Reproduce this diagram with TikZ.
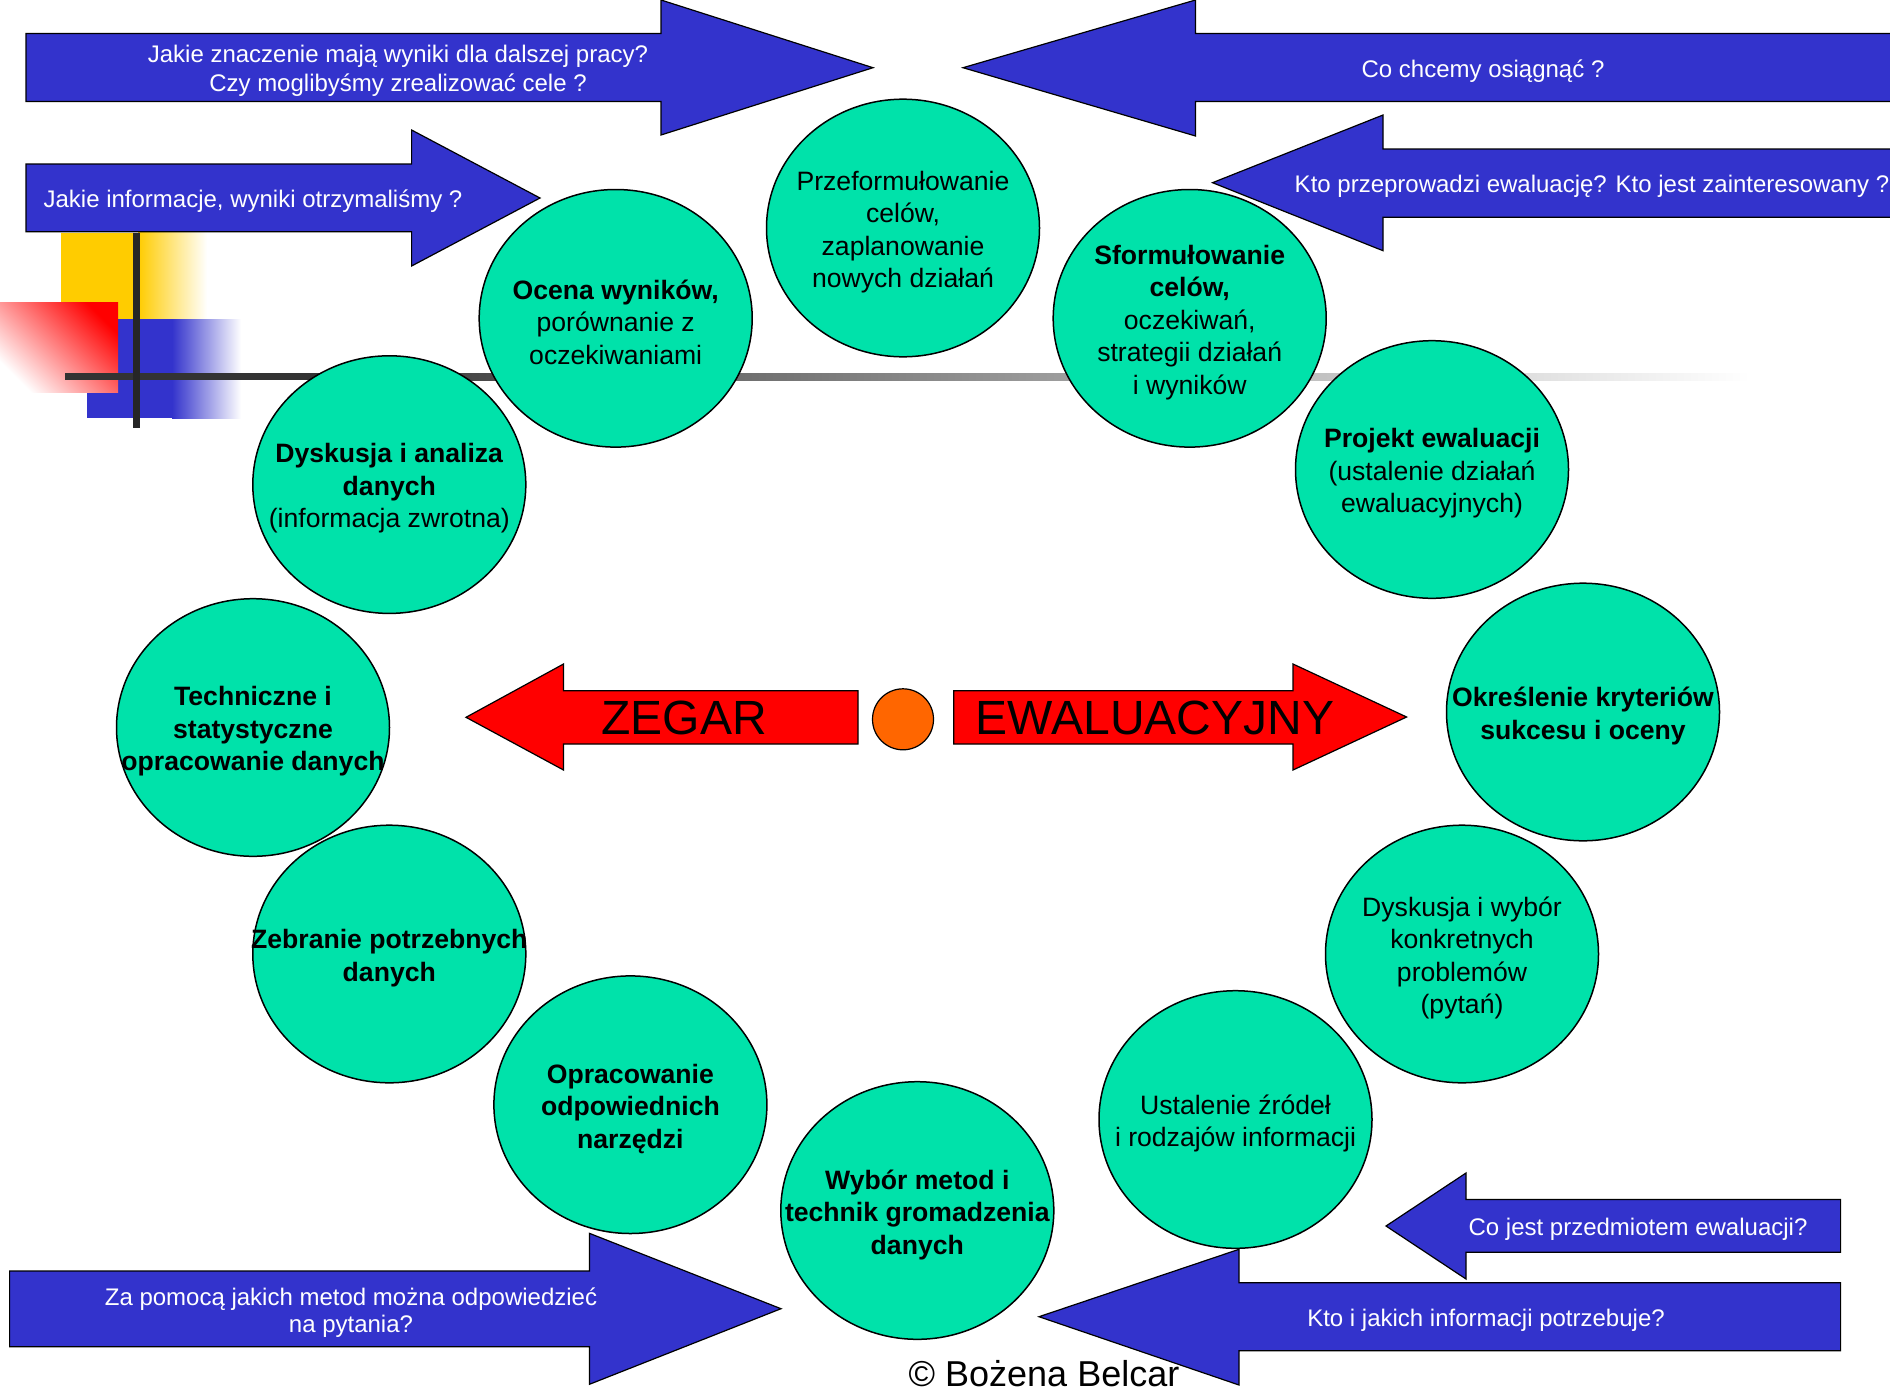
\documentclass[tikz,border=0pt]{standalone}
\usepackage{fontspec}
\setmainfont{Liberation Sans}
\usetikzlibrary{shapes.geometric}

\definecolor{stagegreen}{RGB}{0,226,170}
\definecolor{questionblue}{RGB}{51,51,204}
\definecolor{pivotorange}{RGB}{255,102,0}
\definecolor{decoyellow}{RGB}{255,204,0}

\begin{document}
\begin{tikzpicture}[x=1pt, y=-1pt,
    stage/.style={ellipse, draw, line width=1.5pt, fill=stagegreen, minimum width=273pt, minimum height=257.6pt, inner sep=0pt},
    stagetext/.style={align=center, inner sep=0pt, yshift=-4pt, font=\fontsize{26.6}{32.5}\selectfont},
    stagebold/.style={stagetext, font=\fontsize{26.6}{32.5}\selectfont\bfseries},
    question/.style={align=center, inner sep=0pt, yshift=-2.5pt, text=white, font=\fontsize{24}{29}\selectfont},
    bluearrow/.style={fill=questionblue, draw=black, line width=1.2pt},
    redarrow/.style={fill=red, draw=black, line width=1.2pt},
    clockword/.style={inner sep=0pt, font=\fontsize{48}{48}\selectfont}]

    % canvas
    \useasboundingbox (0,0) rectangle (1890,1390);

    % corner decoration
    \fill[decoyellow] (61,232.7) rectangle (138,319);
    \shade[left color=decoyellow, right color=white] (138,232.7) rectangle (207,319);
    \fill[questionblue] (87,319) rectangle (172,418);
    \shade[left color=questionblue, right color=white] (172,319) rectangle (241,418);
    \shade[top color=red, bottom color=white, shading angle=-45] (0,302.7) rectangle (118,392.7);
    \fill[black!80] (65,373.2) rectangle (321,380.2);
    \shade[left color=black!80, middle color=black!30, right color=white] (321,373.2) rectangle (1750,380.2);
    \draw[line width=7pt, black!85] (136,232.7) -- (136,428);

    % questions, left side
    \draw[bluearrow] (26,33.5) -- (661,33.5) -- (661,0) -- (873,67.7) -- (661,135) -- (661,101.5) -- (26,101.5) -- cycle;
    \node[question] (meaning) at (398,68.5) {Jakie znaczenie mają wyniki dla dalszej pracy?\\Czy moglibyśmy zrealizować cele ?};

    \draw[bluearrow] (26,164) -- (411.6,164) -- (411.6,130) -- (540,198) -- (411.6,266) -- (411.6,231.7) -- (26,231.7) -- cycle;
    \node[question] (gained) at (253,199) {Jakie informacje, wyniki otrzymaliśmy ?};

    \draw[bluearrow] (9.6,1271) -- (589.4,1271) -- (589.4,1233.3) -- (781,1308.7) -- (589.4,1384.3) -- (589.4,1346.7) -- (9.6,1346.7) -- cycle;
    \node[question, font=\fontsize{24}{27.5}\selectfont] (methods) at (351,1310) {Za pomocą jakich metod można odpowiedzieć\\na pytania?};

    % questions, right side
    \draw[bluearrow] (1895,33.5) -- (1195.5,33.5) -- (1195.5,0) -- (963,67.7) -- (1195.5,136) -- (1195.5,101.5) -- (1895,101.5) -- cycle;
    \node[question] (aims) at (1483,69) {Co chcemy osiągnąć ?};

    \draw[bluearrow] (1895,149) -- (1383,149) -- (1383,115) -- (1212.5,182.7) -- (1383,250.7) -- (1383,217.3) -- (1895,217.3) -- cycle;
    \node[question] (who) at (1592,184) {Kto przeprowadzi ewaluację? Kto jest zainteresowany ?};

    \draw[bluearrow] (1840.6,1199.4) -- (1466,1199.4) -- (1466,1173) -- (1386,1226) -- (1466,1279) -- (1466,1252.3) -- (1840.6,1252.3) -- cycle;
    \node[question] (subject) at (1638,1227) {Co jest przedmiotem ewaluacji?};

    \draw[bluearrow] (1840.6,1282.7) -- (1239,1282.7) -- (1239,1249.3) -- (1039,1316.7) -- (1239,1385) -- (1239,1350.7) -- (1840.6,1350.7) -- cycle;
    \node[question] (users) at (1486,1318) {Kto i jakich informacji potrzebuje?};

    % stages of the clock
    \node[stage] (reform) at (903,228) {};
    \node[stagetext] at (reform) {Przeformułowanie\\celów,\\zaplanowanie\\nowych działań};

    \node[stage] (assess) at (615.7,318.3) {};
    \node[stagetext] at (assess) {\textbf{Ocena wyników,}\\porównanie z\\oczekiwaniami};

    \node[stage] (goals) at (1189.7,318.3) {};
    \node[stagetext] at (goals) {\textbf{Sformułowanie}\\\textbf{celów,}\\oczekiwań,\\strategii działań\\i wyników};

    \node[stage] (analysis) at (389.3,484.6) {};
    \node[stagetext] at (analysis) {\textbf{Dyskusja i analiza}\\\textbf{danych}\\(informacja zwrotna)};

    \node[stage] (design) at (1432,469.5) {};
    \node[stagetext] at (design) {\textbf{Projekt ewaluacji}\\(ustalenie działań\\ewaluacyjnych)};

    \node[stage] (processing) at (253,727.5) {};
    \node[stagebold] at (processing) {Techniczne i\\statystyczne\\opracowanie danych};

    \node[stage] (criteria) at (1583,712) {};
    \node[stagebold] at (criteria) {Określenie kryteriów\\sukcesu i oceny};

    \node[stage] (collect) at (389.3,954) {};
    \node[stagebold] at (collect) {Zebranie potrzebnych\\danych};

    \node[stage] (problems) at (1462,954) {};
    \node[stagetext] at (problems) {Dyskusja i wybór\\konkretnych\\problemów\\(pytań)};

    \node[stage] (tools) at (630.4,1104.7) {};
    \node[stagebold] at (tools) {Opracowanie\\odpowiednich\\narzędzi};

    \node[stage] (sources) at (1235.5,1119.5) {};
    \node[stagetext] at (sources) {Ustalenie źródeł\\i rodzajów informacji};

    \node[stage] (choice) at (917.3,1210.5) {};
    \node[stagebold] at (choice) {Wybór metod i\\technik gromadzenia\\danych};

    % clock hands
    \draw[redarrow] (858,690.7) -- (563.5,690.7) -- (563.5,664) -- (466,717.3) -- (563.5,770) -- (563.5,744) -- (858,744) -- cycle;
    \node[clockword] (zegar) at (684,717.5) {ZEGAR};
    \node[circle, draw, line width=1.2pt, fill=pivotorange, minimum size=61pt, inner sep=0pt] (pivot) at (903,719.3) {};
    \draw[redarrow] (953.8,690.7) -- (1293,690.7) -- (1293,664) -- (1406.6,717) -- (1293,770) -- (1293,744) -- (953.8,744) -- cycle;
    \node[clockword] (ewaluacyjny) at (1155,717.5) {EWALUACYJNY};

    % signature
    \node[inner sep=0pt, anchor=base, font=\fontsize{36}{36}\selectfont] (author) at (1044,1386) {© Bożena Belcar};

\end{tikzpicture}
\end{document}
